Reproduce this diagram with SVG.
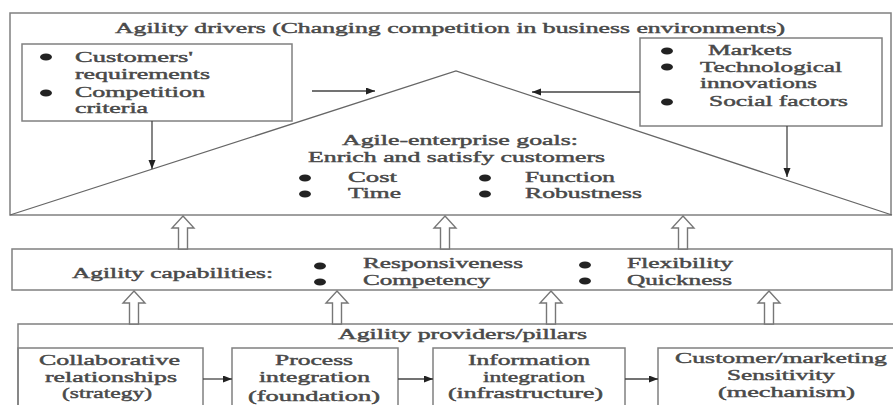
<svg xmlns="http://www.w3.org/2000/svg" width="893" height="405" viewBox="0 0 893 405">
<defs>
<style>
.t{font-family:"Liberation Serif","Times New Roman",serif;font-size:15px;fill:#4a4a4a;stroke:#4a4a4a;stroke-width:0.45;}
.box{fill:none;stroke:#808080;stroke-width:1.5;}
.ln{fill:none;stroke:#444;stroke-width:1.3;}
.hol{fill:#fff;stroke:#777;stroke-width:1.4;}
.bul{fill:#222;}
</style>
<marker id="ah" markerUnits="userSpaceOnUse" markerWidth="10" markerHeight="8" refX="9" refY="3.5" orient="auto">
<path d="M0,0 L9,3.5 L0,7 Z" fill="#222"/>
</marker>
<path id="hollow" d="M0,0 L11,12 L4.5,12 L4.5,33 L-4.5,33 L-4.5,12 L-11,12 Z"/>
</defs>
<rect width="893" height="405" fill="#fff"/>

<g id="drivers">
<rect class="box" x="10" y="13" width="881" height="202" stroke="#999"/>
<text class="t" x="115" y="33" textLength="670" lengthAdjust="spacingAndGlyphs">Agility drivers (Changing competition in business environments)</text>
</g>

<g id="customers">
<rect class="box" x="22" y="44" width="270" height="77"/>
<ellipse class="bul" cx="46" cy="57" rx="6" ry="3.5"/>
<ellipse class="bul" cx="46" cy="93" rx="6" ry="3.5"/>
<text class="t" x="75" y="62" textLength="118" lengthAdjust="spacingAndGlyphs">Customers'</text>
<text class="t" x="75" y="79" textLength="135" lengthAdjust="spacingAndGlyphs">requirements</text>
<text class="t" x="75" y="97" textLength="130" lengthAdjust="spacingAndGlyphs">Competition</text>
<text class="t" x="75" y="113" textLength="73" lengthAdjust="spacingAndGlyphs">criteria</text>
</g>

<g id="markets">
<rect class="box" x="640" y="38" width="242" height="88"/>
<ellipse class="bul" cx="667" cy="51" rx="6" ry="3.5"/>
<ellipse class="bul" cx="667" cy="67" rx="6" ry="3.5"/>
<ellipse class="bul" cx="667" cy="102" rx="6" ry="3.5"/>
<text class="t" x="708" y="55" textLength="84" lengthAdjust="spacingAndGlyphs">Markets</text>
<text class="t" x="700" y="72" textLength="142" lengthAdjust="spacingAndGlyphs">Technological</text>
<text class="t" x="700" y="88" textLength="117" lengthAdjust="spacingAndGlyphs">innovations</text>
<text class="t" x="709" y="106" textLength="139" lengthAdjust="spacingAndGlyphs">Social factors</text>
</g>

<g id="goals">
<polyline points="10,215 456,71 892,215" fill="none" stroke="#666" stroke-width="1.3"/>
<text class="t" x="342" y="145" textLength="236" lengthAdjust="spacingAndGlyphs">Agile-enterprise goals:</text>
<text class="t" x="308" y="162" textLength="297" lengthAdjust="spacingAndGlyphs">Enrich and satisfy customers</text>
<ellipse class="bul" cx="305" cy="178" rx="6" ry="3.5"/>
<ellipse class="bul" cx="305" cy="194" rx="6" ry="3.5"/>
<ellipse class="bul" cx="485" cy="178" rx="6" ry="3.5"/>
<ellipse class="bul" cx="485" cy="194" rx="6" ry="3.5"/>
<text class="t" x="348" y="182" textLength="49" lengthAdjust="spacingAndGlyphs">Cost</text>
<text class="t" x="348" y="198" textLength="53" lengthAdjust="spacingAndGlyphs">Time</text>
<text class="t" x="525" y="182" textLength="90" lengthAdjust="spacingAndGlyphs">Function</text>
<text class="t" x="525" y="198" textLength="117" lengthAdjust="spacingAndGlyphs">Robustness</text>
</g>

<g id="capabilities">
<rect class="box" x="12" y="249" width="880" height="41"/>
<text class="t" x="72" y="278" textLength="201" lengthAdjust="spacingAndGlyphs">Agility capabilities:</text>
<ellipse class="bul" cx="320" cy="266" rx="6" ry="3.5"/>
<ellipse class="bul" cx="320" cy="282" rx="6" ry="3.5"/>
<ellipse class="bul" cx="585" cy="265" rx="6" ry="3.5"/>
<ellipse class="bul" cx="585" cy="281" rx="6" ry="3.5"/>
<text class="t" x="363" y="268" textLength="160" lengthAdjust="spacingAndGlyphs">Responsiveness</text>
<text class="t" x="363" y="285" textLength="127" lengthAdjust="spacingAndGlyphs">Competency</text>
<text class="t" x="627" y="268" textLength="106" lengthAdjust="spacingAndGlyphs">Flexibility</text>
<text class="t" x="627" y="285" textLength="105" lengthAdjust="spacingAndGlyphs">Quickness</text>
</g>

<g id="providers">
<rect class="box" x="18" y="324" width="890" height="100"/>
<text class="t" x="338" y="339" textLength="249" lengthAdjust="spacingAndGlyphs">Agility providers/pillars</text>
</g>

<g id="pillar-strategy">
<rect class="box" x="18" y="348" width="185" height="80"/>
<text class="t" x="39" y="365" textLength="141" lengthAdjust="spacingAndGlyphs">Collaborative</text>
<text class="t" x="45" y="382" textLength="132" lengthAdjust="spacingAndGlyphs">relationships</text>
<text class="t" x="62" y="398" textLength="90" lengthAdjust="spacingAndGlyphs">(strategy)</text>
</g>

<g id="pillar-foundation">
<rect class="box" x="232" y="348" width="166" height="80"/>
<text class="t" x="275" y="365" textLength="78" lengthAdjust="spacingAndGlyphs">Process</text>
<text class="t" x="259" y="382" textLength="111" lengthAdjust="spacingAndGlyphs">integration</text>
<text class="t" x="248" y="401" textLength="132" lengthAdjust="spacingAndGlyphs">(foundation)</text>
</g>

<g id="pillar-infrastructure">
<rect class="box" x="433" y="348" width="192" height="80"/>
<text class="t" x="468" y="365" textLength="122" lengthAdjust="spacingAndGlyphs">Information</text>
<text class="t" x="483" y="382" textLength="102" lengthAdjust="spacingAndGlyphs">integration</text>
<text class="t" x="448" y="398" textLength="155" lengthAdjust="spacingAndGlyphs">(infrastructure)</text>
</g>

<g id="pillar-mechanism">
<rect class="box" x="658" y="348" width="250" height="80"/>
<text class="t" x="675" y="363" textLength="212" lengthAdjust="spacingAndGlyphs">Customer/marketing</text>
<text class="t" x="727" y="380" textLength="108" lengthAdjust="spacingAndGlyphs">Sensitivity</text>
<text class="t" x="718" y="397" textLength="137" lengthAdjust="spacingAndGlyphs">(mechanism)</text>
</g>

<g id="connectors">
<line class="ln" x1="312" y1="91" x2="375" y2="91" marker-end="url(#ah)"/>
<line class="ln" x1="640" y1="92" x2="532" y2="92" marker-end="url(#ah)"/>
<line class="ln" x1="152" y1="121" x2="152" y2="169" marker-end="url(#ah)"/>
<line class="ln" x1="787" y1="126" x2="787" y2="177" marker-end="url(#ah)"/>
<use href="#hollow" class="hol" x="183" y="216"/>
<use href="#hollow" class="hol" x="445" y="216"/>
<use href="#hollow" class="hol" x="683" y="216"/>
<use href="#hollow" class="hol" x="134" y="291"/>
<use href="#hollow" class="hol" x="337" y="291"/>
<use href="#hollow" class="hol" x="551" y="291"/>
<use href="#hollow" class="hol" x="769" y="291"/>
<line class="ln" x1="203" y1="379" x2="232" y2="379" marker-end="url(#ah)"/>
<line class="ln" x1="398" y1="379" x2="433" y2="379" marker-end="url(#ah)"/>
<line class="ln" x1="625" y1="379" x2="658" y2="379" marker-end="url(#ah)"/>
</g>
</svg>
